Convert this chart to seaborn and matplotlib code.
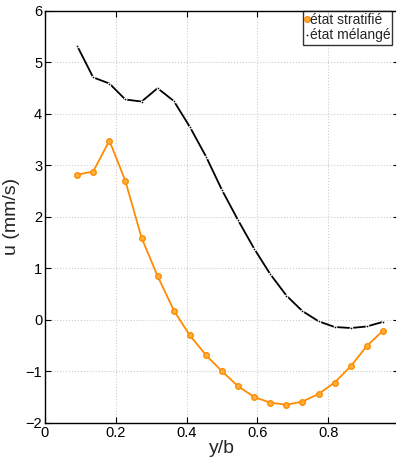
import numpy as np
import pandas as pd
import seaborn as sns
import matplotlib
matplotlib.use('Agg')
import matplotlib.pyplot as plt

# y/b positions (20 stations)
y_over_b = [0.091, 0.136, 0.182, 0.227, 0.273, 0.318, 0.364, 0.409, 0.455, 0.500,
            0.545, 0.591, 0.636, 0.682, 0.727, 0.773, 0.818, 0.864, 0.909, 0.955]

u_stratifie = [2.82, 2.88, 3.48, 2.70, 1.59, 0.85, 0.18, -0.30, -0.69, -1.00,
               -1.29, -1.50, -1.61, -1.65, -1.59, -1.44, -1.22, -0.90, -0.51, -0.21]

u_melange = [5.32, 4.71, 4.59, 4.28, 4.24, 4.50, 4.25, 3.75, 3.17, 2.52,
             1.94, 1.38, 0.89, 0.47, 0.17, -0.03, -0.14, -0.16, -0.13, -0.04]

labels = ['état stratifié', 'état mélangé']

sns.set_style('ticks')
plt.rcParams['font.family'] = ['Liberation Sans', 'DejaVu Sans']

df_s = pd.DataFrame({'y/b': y_over_b, 'u': u_stratifie})
df_m = pd.DataFrame({'y/b': y_over_b, 'u': u_melange})

fig = plt.figure(figsize=(3.96, 4.57), dpi=100)
ax = fig.add_axes([0.1136, 0.075, 0.894, 0.901])

sns.lineplot(data=df_s, x='y/b', y='u', ax=ax, color='#ff8c00', lw=1.3,
             marker='o', markersize=4, markerfacecolor='#ffb040',
             markeredgecolor='#ff8c00', markeredgewidth=1.0, label=labels[0])
sns.lineplot(data=df_m, x='y/b', y='u', ax=ax, color='black', lw=1.3,
             marker='.', markersize=4, label=labels[1])

ax.set_xlim(0, 1)
ax.set_ylim(-2, 6)
ax.set_xticks([0, 0.2, 0.4, 0.6, 0.8, 1.0])
ax.set_xticklabels(['0', '0.2', '0.4', '0.6', '0.8', ''])
ax.set_yticks(range(-2, 7))
ax.set_yticklabels(['\u22122', '\u22121', '0', '1', '2', '3', '4', '5', '6'])
ax.tick_params(direction='in', top=True, right=True, length=4, width=0.8,
               labelsize=10.5, pad=2, colors='black')
ax.grid(True, linestyle=':', color='#cccccc', linewidth=0.8)
for s in ax.spines.values():
    s.set_linewidth(1.0)
    s.set_color('black')

ax.set_xlabel('y/b', fontsize=14, labelpad=0)
ax.set_ylabel('u (mm/s)', fontsize=14, labelpad=4)

leg = ax.legend(loc='upper left', bbox_to_anchor=(0.73, 1.0), fontsize=10,
                handlelength=0.2, handletextpad=0.1, borderpad=0.15,
                labelspacing=0.1, borderaxespad=0, frameon=True, fancybox=False)
leg.get_frame().set_edgecolor('black')
leg.get_frame().set_linewidth(1.0)
for h in leg.legend_handles:
    h.set_linestyle('none')

fig.savefig('out.png', dpi=100)
